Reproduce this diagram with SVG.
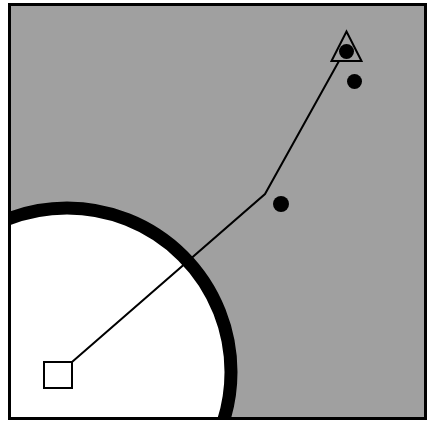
<svg xmlns="http://www.w3.org/2000/svg" width="427" height="422" viewBox="0 0 427 422">
  <style>
    .frame{fill:#a0a0a0;stroke:#000;stroke-width:3}
    .node{fill:#fff;stroke:#000;stroke-width:2}
    .tri{fill:none;stroke:#000;stroke-width:2}
    .dot{fill:#000}
    .edge{fill:none;stroke:#000;stroke-width:2}
  </style>
  <defs>
    <clipPath id="clip"><rect x="9.5" y="4.5" width="416" height="414"/></clipPath>
  </defs>
  <rect class="frame" x="9.5" y="4.5" width="416" height="414"/>
  <g id="region" clip-path="url(#clip)">
    <circle cx="67" cy="372" r="164" fill="#fff" stroke="#000" stroke-width="13"/>
  </g>
  <rect x="9.5" y="4.5" width="416" height="414" fill="none" stroke="#000" stroke-width="3"/>
  <g id="connectors">
    <polyline class="edge" points="72,362 265,194 339,61"/>
  </g>
  <g id="start">
    <rect class="node" x="44" y="362" width="28" height="26"/>
  </g>
  <g id="goal">
    <polygon class="tri" points="346.5,31.5 331.5,61 361.5,61"/>
  </g>
  <g id="dot1"><circle class="dot" cx="346.5" cy="51.5" r="7.5"/></g>
  <g id="dot2"><circle class="dot" cx="354.5" cy="81.5" r="7.5"/></g>
  <g id="dot3"><circle class="dot" cx="281" cy="204" r="8"/></g>
</svg>
